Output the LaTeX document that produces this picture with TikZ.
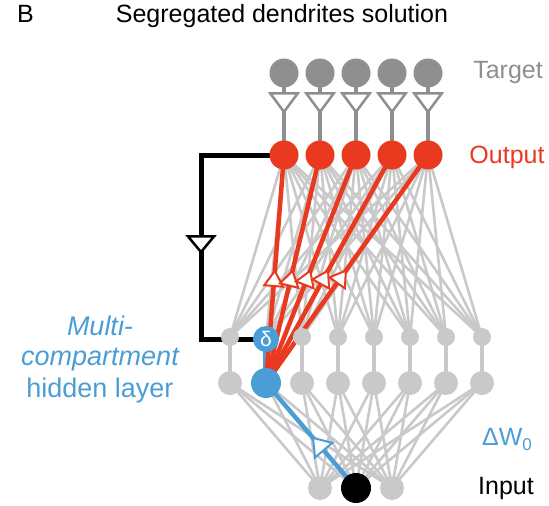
\documentclass[tikz,border=0pt]{standalone}
\usepackage{fontspec}
\setmainfont{Liberation Sans}
\usepackage{tikz}
\usetikzlibrary{arrows.meta,decorations.markings,backgrounds}
\definecolor{tgtgrey}{RGB}{143,143,143}
\definecolor{hidgrey}{RGB}{201,201,201}
\definecolor{outred}{RGB}{233,57,30}
\definecolor{hidblue}{RGB}{75,158,213}
\def\labelfont{\fontsize{25}{30}\selectfont}
\def\hidfont{\fontsize{27}{30}\selectfont}
\tikzset{
	cell/.style={circle, inner sep=0pt, draw=none},
	tgtcell/.style={cell, fill=tgtgrey, minimum size=29pt},
	outcell/.style={cell, fill=outred, minimum size=29pt},
	apccell/.style={cell, fill=hidgrey, minimum size=18pt},
	somcell/.style={cell, fill=hidgrey, minimum size=24pt},
	inpcell/.style={cell, fill=hidgrey, minimum size=24pt},
	weight/.style={draw=hidgrey, line width=2.6pt},
	synapse/.style n args={4}{postaction={decorate}, decoration={markings,
		mark=at position #1 with {\arrow{Triangle[fill=white, length=#2pt, width=#3pt, line width=#4pt]}}}}
}

\begin{document}
\begin{tikzpicture}[x=1pt, y=-1pt]
			%%%%% START %%%%%
			\useasboundingbox (0,0) rectangle (549,506);
			
			\node[font=\labelfont, anchor=base] (panel) at (25.5,22) {B};
			\node[font=\labelfont, anchor=base] (title) at (282,22) {Segregated dendrites solution};
			
			% neurons
			\foreach \i in {1,...,5} {
				\node[tgtcell] (tgt\i) at ({248+36*\i},73) {};
				\node[outcell] (out\i) at ({248+36*\i},155) {};
			}
			\foreach \j in {1,3,4,5,6,7,8} {
				\node[apccell] (apc\j) at ({194+36*\j},337) {};
				\node[somcell] (som\j) at ({194+36*\j},383) {};
			}
			\node[cell, fill=hidblue, minimum size=26pt, text=white, font=\fontsize{21}{21}\selectfont] (apc2) at (266,339) {δ};
			\node[cell, fill=hidblue, minimum size=30pt] (som2) at (266,383) {};
			\node[inpcell] (inp1) at (320,488) {};
			\node[cell, fill=black, minimum size=30pt] (inp2) at (356,488) {};
			\node[inpcell] (inp3) at (392,488) {};
			\coordinate (fbx) at (201,247);
			
			\begin{scope}[on background layer]
				\foreach \i in {1,...,5}
					\foreach \j in {1,...,8}
						\draw[weight] (out\i.center) -- (apc\j.center);
				\foreach \k in {1,2,3}
					\foreach \j in {1,...,8}
						\draw[weight] (inp\k.center) -- (som\j.center);
				\foreach \j in {1,3,4,5,6,7,8}
					\draw[draw=hidgrey, line width=4pt] (apc\j.center) -- (som\j.center);
				\draw[draw=hidblue, line width=6pt] (apc2.center) -- (som2.center);
				
				% target nudges the output
				\foreach \i in {1,...,5}
					\draw[draw=tgtgrey, line width=4.5pt, synapse={0.5}{22}{32}{2.5}] (tgt\i.center) -- (out\i.center);
				
				% feedforward weights onto the output
				\foreach \i in {1,...,5}
					\draw[draw=outred, line width=4.5pt, synapse={0.5}{18}{22}{2}] (som2.center) -- (out\i.center);
				
				% bottom-up weights
				\draw[draw=hidblue, line width=4.5pt, synapse={0.49}{19}{26}{2}] (inp2.center) -- (som2.center);
				
				% feedback to the apical compartment
				\draw[line width=5pt, synapse={182pt}{19}{31}{2.5}] (out1.center) -| (fbx) |- (apc2.center);
			\end{scope}
			
			% labels
			\node[font=\labelfont, text=tgtgrey, anchor=base] (tgtlabel) at (508,78) {Target};
			\node[font=\labelfont, text=outred, anchor=base] (outlabel) at (507,163) {Output};
			\node[font=\hidfont\itshape, text=hidblue, anchor=base] (hidlabela) at (100,335) {Multi-};
			\node[font=\hidfont\itshape, text=hidblue, anchor=base] (hidlabelb) at (100,365) {compartment};
			\node[font=\hidfont, text=hidblue, anchor=base] (hidlabelc) at (100,397) {hidden layer};
			\node[font=\labelfont, text=hidblue, anchor=base] (dwlabel) at (507,445) {ΔW\raisebox{-5pt}{\fontsize{17}{17}\selectfont 0}};
			\node[font=\labelfont, anchor=base] (inplabel) at (506,494) {Input};
			
			%%%%% END %%%%%
		\end{tikzpicture}
\end{document}
